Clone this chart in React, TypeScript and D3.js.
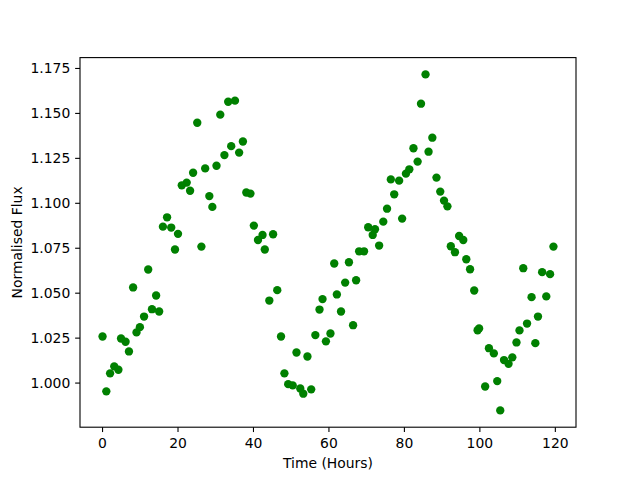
import React from "react";
import * as d3 from "d3";

const times: number[] = [0,1.0,2.0,3.1,4.2,4.9,6.1,7.0,8.1,9.0,9.9,11.0,12.1,13.1,14.2,15.0,16.0,17.1,18.2,19.2,20.0,
  21.0,22.3,23.2,24.0,25.1,26.2,27.2,28.3,29.1,30.2,31.2,32.3,33.3,34.1,35.1,36.2,37.2,38.1,39.2,40.1,41.2,42.4,43.0,44.2,45.2,46.3,
  47.3,48.2,49.2,50.4,51.4,52.4,53.2,54.3,55.3,56.4,57.5,58.3,59.2,60.4,61.4,62.1,63.2,64.3,65.3,66.4,67.2,68.0,69.3,
  70.4,71.6,72.2,73.3,74.4,75.4,76.4,77.3,78.6,79.4,
  80.4,81.3,82.4,83.5,84.4,85.6,86.4,87.4,88.5,89.5,90.5,91.4,92.3,93.4,94.5,95.6,96.4,97.4,98.5,99.4,99.8,
  101.4,102.4,103.7,104.6,105.4,106.4,107.6,108.6,109.7,110.5,111.5,112.5,113.7,114.7,115.4,116.5,117.6,118.6,119.5];

const flux: number[] = [1.0259,0.9954,1.0054,1.0093,1.0074,1.0248,1.0230,1.0176,1.0532,1.0282,1.0311,1.0370,1.0632,1.0411,1.0487,1.0398,1.0870,1.0922,1.0865,1.0743,1.0830,
  1.1100,1.1115,1.1070,1.1170,1.1448,1.0759,1.1194,1.1040,1.0980,1.1209,1.1493,1.1268,1.1565,1.1318,1.1571,1.1282,1.1344,1.1060,1.1054,1.0876,1.0796,1.0824,1.0743,1.0459,1.0828,1.0517,
  1.0259,1.0054,0.9994,0.9987,1.0170,0.9970,0.9941,1.0148,0.9965,1.0267,1.0409,1.0467,1.0232,1.0276,1.0665,1.0493,1.0398,1.0559,1.0672,1.0322,1.0572,1.0733,1.0733,
  1.0867,1.0824,1.0856,1.0765,1.0898,1.0970,1.1133,1.1050,1.1126,1.0915,
  1.1165,1.1189,1.1306,1.1232,1.1554,1.1717,1.1287,1.1365,1.1143,1.1065,1.1015,1.0983,1.0761,1.0728,1.0818,1.0796,1.0689,1.0633,1.0515,1.0294,1.0304,
  0.9981,1.0194,1.0165,1.0011,0.9848,1.0128,1.0107,1.0143,1.0226,1.0293,1.0639,1.0331,1.0478,1.0222,1.0370,1.0617,1.0482,1.0606,1.0759];

const xTicks: number[] = [0, 20, 40, 60, 80, 100, 120];
const yTicks: number[] = [1.0, 1.025, 1.05, 1.075, 1.1, 1.125, 1.15, 1.175];
const xLabel = "Time (Hours)";
const yLabel = "Normalised Flux";

const W = 640, H = 480;
const L = 80, R = 576, T = 57.6, B = 427.2;
const FONT = "'DejaVu Sans', sans-serif";
const FS = 13.9;
const TICK = 4.86;
const PAD = 4.86;

function padded(vals: number[]): [number, number] {
  const [mn, mx] = d3.extent(vals) as [number, number];
  const m = (mx - mn) * 0.05;
  return [mn - m, mx + m];
}

export default function App() {
  const x = d3.scaleLinear().domain(padded(times)).range([L, R]);
  const y = d3.scaleLinear().domain(padded(flux)).range([B, T]);
  const fmt = d3.format(".3f");
  return (
    <svg width={W} height={H} style={{ position: "absolute", left: 0, top: 0, background: "#fff" }}
      fontFamily={FONT} fontSize={FS}>
      <rect x={0} y={0} width={W} height={H} fill="#fff" />
      <g>
        {times.map((t, i) => (
          <circle key={i} cx={x(t)} cy={y(flux[i])} r={4.17} fill="#008000" />
        ))}
      </g>
      <rect x={L} y={T} width={R - L} height={B - T} fill="none" stroke="#000" strokeWidth={1.1} />
      {xTicks.map((t) => (
        <g key={"x" + t}>
          <line x1={x(t)} x2={x(t)} y1={B} y2={B + TICK} stroke="#000" strokeWidth={1.1} />
          <text x={x(t)} y={447.5} textAnchor="middle" fill="#000">{t}</text>
        </g>
      ))}
      {yTicks.map((v) => (
        <g key={"y" + v}>
          <line x1={L - TICK} x2={L} y1={y(v)} y2={y(v)} stroke="#000" strokeWidth={1.1} />
          <text x={L - TICK - PAD} y={y(v)} dy="0.36em" textAnchor="end" fill="#000">{fmt(v)}</text>
        </g>
      ))}
      <text x={(L + R) / 2} y={468} textAnchor="middle" fill="#000">{xLabel}</text>
      <text transform={`translate(21.5, ${(T + B) / 2}) rotate(-90)`} textAnchor="middle" fill="#000">{yLabel}</text>
    </svg>
  );
}
